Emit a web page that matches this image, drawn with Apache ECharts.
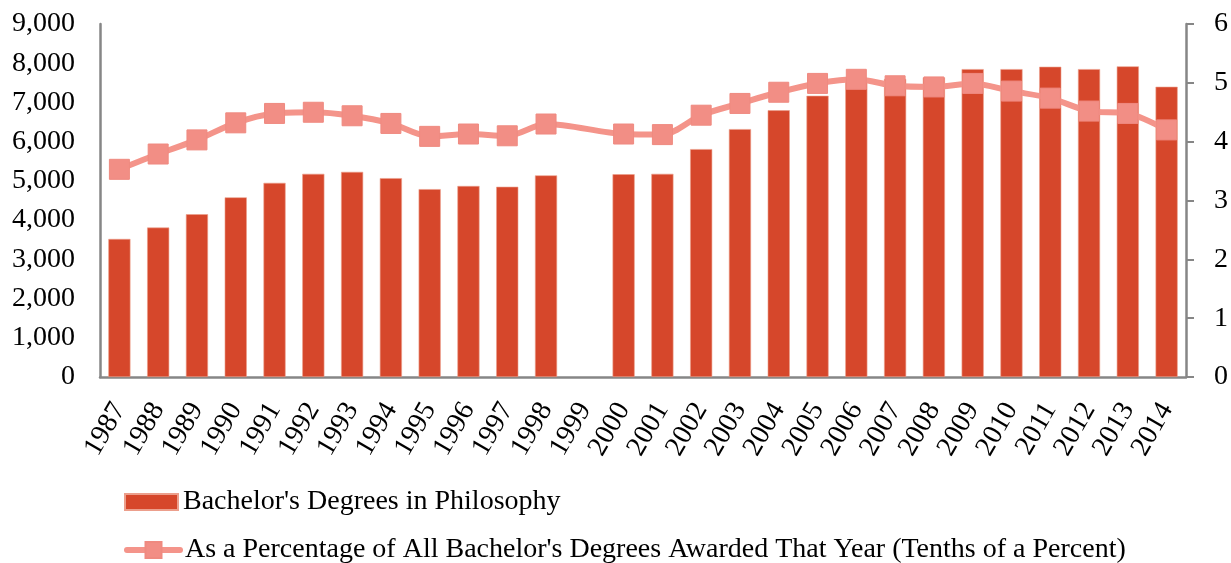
<!DOCTYPE html>
<html>
<head>
<meta charset="utf-8">
<script src="https://cdn.jsdelivr.net/npm/echarts@6/dist/echarts.min.js"></script>
<style>
  html, body { margin: 0; padding: 0; background: #fff; }
  #chart { width: 1231px; height: 563px; }
</style>
</head>
<body>
<div id="chart"></div>
<script>
// years on the x axis
const years = ["1987", "1988", "1989", "1990", "1991", "1992", "1993", "1994", "1995", "1996",
  "1997", "1998", "1999", "2000", "2001", "2002", "2003", "2004", "2005", "2006",
  "2007", "2008", "2009", "2010", "2011", "2012", "2013", "2014"];

// bachelor's degrees in philosophy (1999 missing)
const degrees = [3520, 3810, 4150, 4580, 4950, 5180, 5230, 5070, 4790, 4870,
  4850, 5140, null, 5170, 5180, 5810, 6320, 6800, 7170, 7550,
  7600, 7640, 7850, 7850, 7910, 7850, 7920, 7400];

// share of all bachelor's degrees, tenths of a percent
const share = [3.53, 3.79, 4.03, 4.32, 4.48, 4.50, 4.44, 4.31, 4.09, 4.13,
  4.10, 4.30, null, 4.13, 4.12, 4.45, 4.65, 4.84, 4.99, 5.06,
  4.95, 4.93, 4.99, 4.86, 4.74, 4.52, 4.48, 4.20];

const barName = "Bachelor's Degrees in Philosophy";
const lineName = "As a Percentage of All Bachelor's Degrees Awarded That Year (Tenths of a Percent)";

const FONT = "Liberation Serif";
const axisColor = "#868686";
const lineColor = "#f4948a";

// one legend per row so they stack like the original
function legendRow(name, icon, top, h) {
  return {
    orient: "vertical",
    left: 124,
    top: top,
    padding: 0,
    itemWidth: 53,
    itemHeight: h,
    itemGap: 0,
    lineStyle: { width: 6, cap: "round", color: lineColor },
    textStyle: { fontFamily: FONT, fontSize: 28, lineHeight: 30, color: "#000" },
    data: [icon ? { name: name, icon: icon } : { name: name }],
  };
}

let myChart = echarts.init(document.getElementById("chart"));
myChart.setOption({
  animation: false,
  textStyle: { fontFamily: FONT },
  grid: {
    left: 100,
    right: 45,
    top: 24,
    bottom: 186,
  },
  legend: [
    legendRow(barName, "rect", 487, 16),
    legendRow(lineName, null, 535, 20),
  ],
  xAxis: {
    type: "category",
    data: years,
    axisLine: { lineStyle: { color: axisColor, width: 2.5 } },
    axisTick: { show: false },
    axisLabel: {
      rotate: 60,
      margin: 28,
      color: "#000",
      fontFamily: FONT,
      fontSize: 28,
      interval: 0,
    },
  },
  yAxis: [
    {
      type: "value",
      min: 0,
      max: 9000,
      interval: 1000,
      splitLine: { show: false },
      axisLine: { show: true, lineStyle: { color: axisColor, width: 2.5 } },
      axisTick: { show: false },
      axisLabel: {
        margin: 25,
        color: "#000",
        fontFamily: FONT,
        fontSize: 28,
        formatter: (v) => v.toLocaleString("en-US"),
      },
    },
    {
      type: "value",
      min: 0,
      max: 6,
      interval: 1,
      position: "right",
      splitLine: { show: false },
      axisLine: { show: true, lineStyle: { color: axisColor, width: 2.5 } },
      axisTick: { show: true, length: 8, lineStyle: { color: axisColor, width: 2 } },
      axisLabel: {
        margin: 28,
        color: "#000",
        fontFamily: FONT,
        fontSize: 28,
      },
    },
  ],
  series: [
    {
      name: barName,
      type: "bar",
      barWidth: "57%",
      data: degrees,
      itemStyle: { color: "#d6472b", borderColor: "#ec9f8c", borderWidth: 0.6 },
    },
    {
      name: lineName,
      type: "line",
      yAxisIndex: 1,
      data: share,
      connectNulls: true,
      smooth: 0.3,
      symbol: "rect",
      symbolSize: 20,
      lineStyle: { color: lineColor, width: 6 },
      itemStyle: { color: "#f28e85", borderColor: "#ef8a80", borderWidth: 1 },
      z: 3,
    },
  ],
});
</script>
</body>
</html>
